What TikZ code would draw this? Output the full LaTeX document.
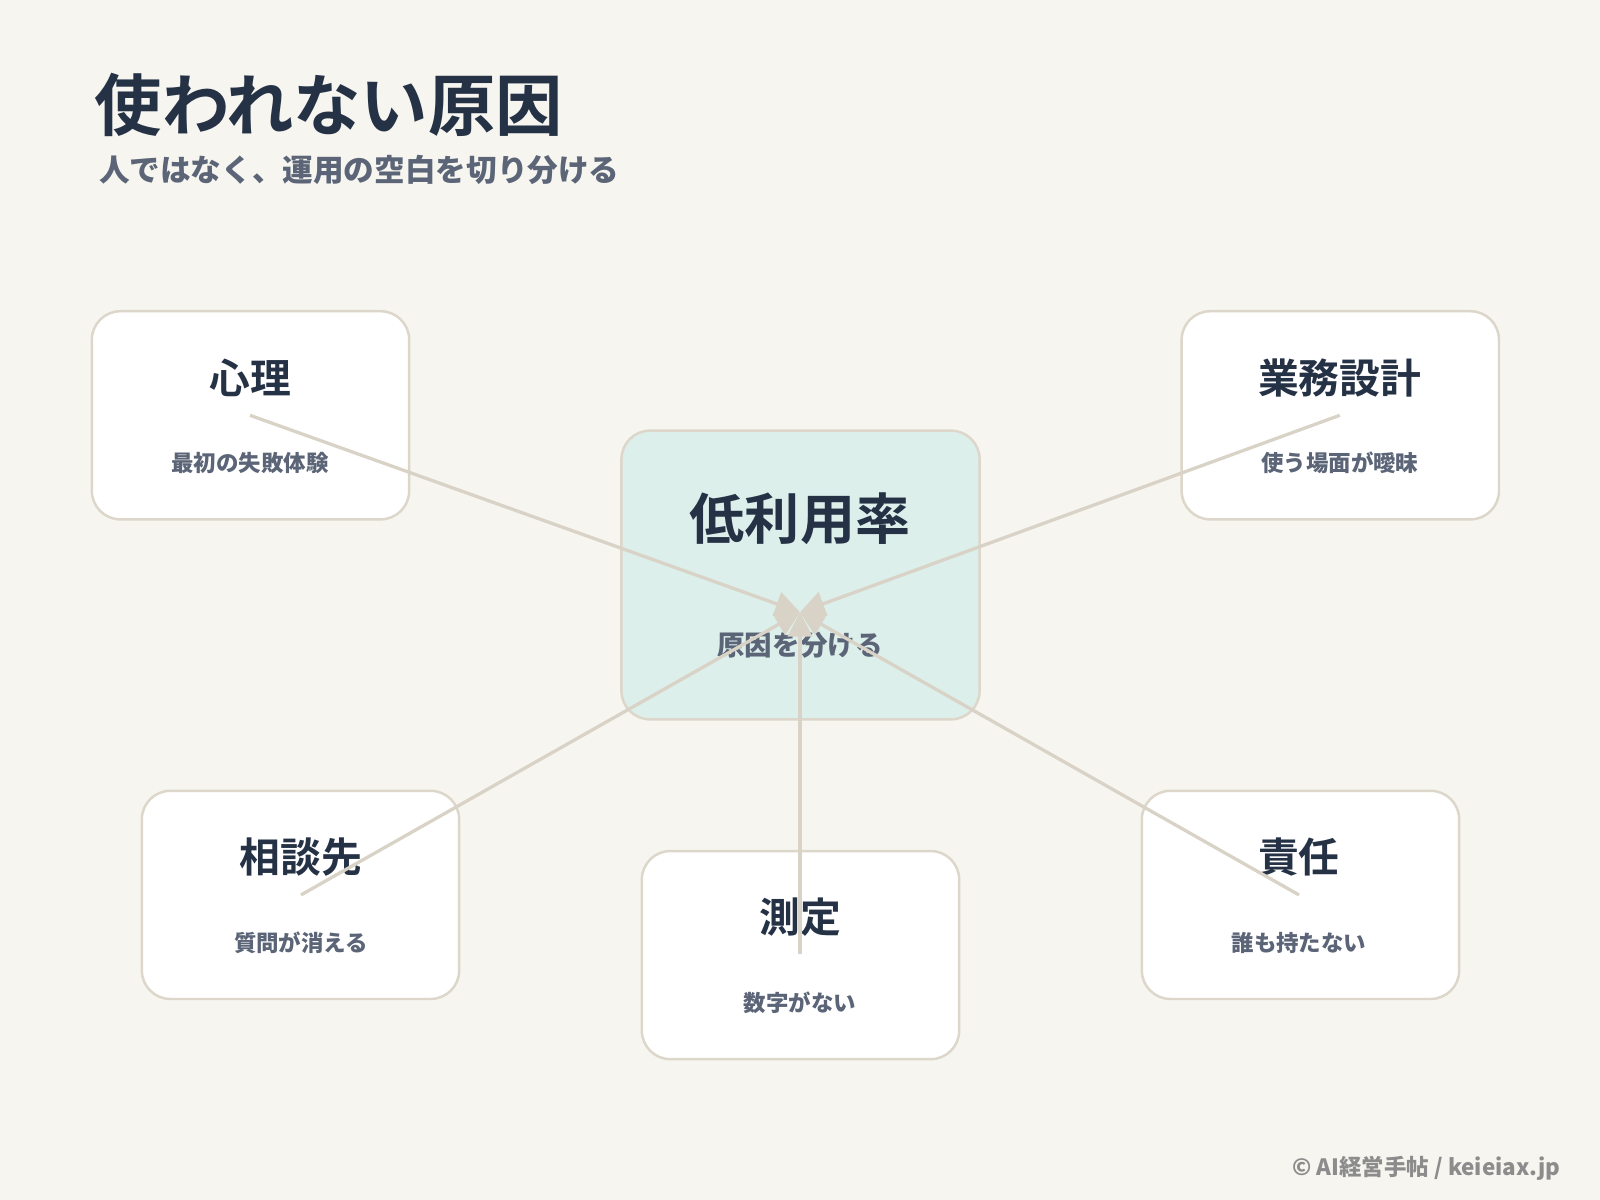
\documentclass[tikz,border=0pt]{standalone}
\usepackage{fontspec}
\setmainfont{Noto Sans CJK JP}
\newfontfamily\jpb{Noto Sans CJK JP Bold}
\usetikzlibrary{arrows.meta}
\definecolor{bg}{HTML}{F6F5EF}
\definecolor{ink}{HTML}{253246}
\definecolor{sub}{HTML}{5B6577}
\definecolor{edge}{HTML}{DDD6CA}
\definecolor{teal}{HTML}{DCEFEB}
\definecolor{ln}{HTML}{D9D2C6}
\tikzset{
  card/.style={draw=edge, line width=1.2pt, rounded corners=14pt, fill=white},
  ttl/.style={font=\jpb\fontsize{20}{24}\selectfont, text=ink},
  stl/.style={font=\bfseries\fontsize{11}{13}\selectfont, text=sub},
  conn/.style={draw=ln, line width=1.6pt, -{Triangle[length=12pt,width=12pt]}}
}
\begin{document}
\begin{tikzpicture}[x=0.5pt,y=-0.5pt]
\fill[bg] (0,0) rectangle (1568,1176);
\useasboundingbox (0,0) rectangle (1568,1176);
\node[anchor=west, font=\jpb\fontsize{33}{38}\selectfont, text=ink] (t) at (86,103) {使われない原因};
\node[anchor=west, font=\bfseries\fontsize{15}{18}\selectfont, text=sub] (s) at (90,167) {人ではなく、運用の空白を切り分ける};
% cards
\draw[card] (90,305) rectangle (401,509);
\draw[card] (1158,305) rectangle (1469,509);
\draw[card, fill=teal] (609,422) rectangle (960,705);
\draw[card] (139,775) rectangle (450,979);
\draw[card] (629,834) rectangle (940,1038);
\draw[card] (1119,775) rectangle (1430,979);
% texts
\node[ttl] (a1) at (245,370) {心理};
\node[stl] (a2) at (245,454) {最初の失敗体験};
\node[ttl] (b1) at (1313,370) {業務設計};
\node[stl] (b2) at (1313,454) {使う場面が曖昧};
\node[font=\jpb\fontsize{27}{32}\selectfont, text=ink] (c1) at (784,508) {低利用率};
\node[font=\bfseries\fontsize{13.5}{16}\selectfont, text=sub] (c2) at (784,632) {原因を分ける};
\node[ttl] (d1) at (295,840) {相談先};
\node[stl] (d2) at (295,924) {質問が消える};
\node[ttl] (e1) at (784,899) {測定};
\node[stl] (e2) at (784,983) {数字がない};
\node[ttl] (f1) at (1273,840) {責任};
\node[stl] (f2) at (1273,924) {誰も持たない};
% connectors
\coordinate (C) at (784,600);
\coordinate (pa) at (245,407);
\coordinate (pb) at (1313,407);
\coordinate (pd) at (295,877);
\coordinate (pe) at (784,935);
\coordinate (pf) at (1273,877);
\foreach \p in {pa,pb,pd,pe,pf} \draw[conn] (\p) -- (C);
\node[anchor=east, font=\bfseries\fontsize{11}{13}\selectfont, text=black!45] (ft) at (1536,1145) {© AI経営手帖 / keieiax.jp};
\end{tikzpicture}
\end{document}
